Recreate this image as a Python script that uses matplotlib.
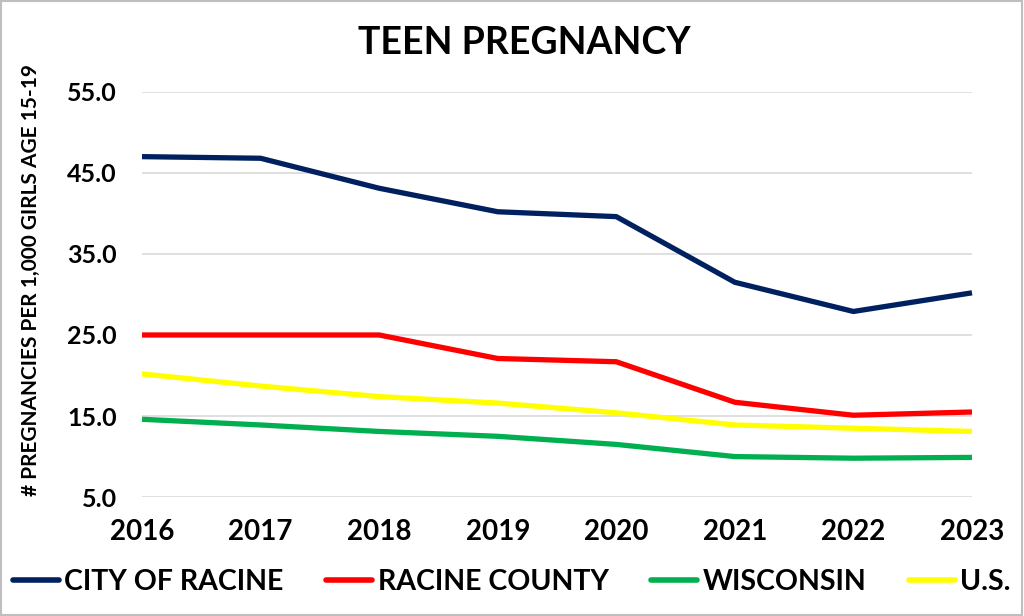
import matplotlib
matplotlib.use('Agg')
import matplotlib.pyplot as plt
from matplotlib.patches import Rectangle

years = [2016, 2017, 2018, 2019, 2020, 2021, 2022, 2023]
city_of_racine = [47.0, 46.8, 43.1, 40.2, 39.6, 31.5, 27.9, 30.2]
racine_county = [25.0, 25.0, 25.0, 22.1, 21.7, 16.7, 15.1, 15.5]
wisconsin = [14.6, 13.9, 13.1, 12.5, 11.5, 10.0, 9.8, 9.9]
us = [20.2, 18.7, 17.4, 16.6, 15.4, 13.9, 13.5, 13.1]
y_ticks = [5.0, 15.0, 25.0, 35.0, 45.0, 55.0]

plt.rcParams['font.family'] = ['Lato', 'DejaVu Sans']

fig = plt.figure(figsize=(10.24, 6.16), dpi=100)
ax = fig.add_axes([0.1387, 0.193, 0.8105, 0.658])

series = [
    ('CITY OF RACINE', city_of_racine, '#002060'),
    ('RACINE COUNTY', racine_county, '#FF0000'),
    ('WISCONSIN', wisconsin, '#00B050'),
    ('U.S.', us, '#FFFF00'),
]
for label, vals, color in series:
    ax.plot(years, vals, color=color, linewidth=3.8, label=label,
            solid_joinstyle='round', solid_capstyle='butt', clip_on=False)

ax.set_xlim(2016, 2023)
ax.set_ylim(5, 55)
ax.set_yticks(y_ticks)
ax.set_yticklabels(['%.1f' % v for v in y_ticks], fontsize=18, fontweight='bold')
ax.set_xticks(years)
ax.set_xticklabels([str(y) for y in years], fontsize=20, fontweight='bold')
ax.tick_params(axis='both', length=0)
ax.tick_params(axis='y', pad=18)
ax.tick_params(axis='x', pad=16)
ax.grid(axis='y', color='#d9d9d9', linewidth=1.2)
ax.set_axisbelow(True)
for s in ax.spines.values():
    s.set_visible(False)

ax.set_ylabel('# PREGNANCIES PER 1,000 GIRLS AGE 15-19', fontsize=15,
              fontweight='bold')
ax.yaxis.set_label_coords(-0.122, 0.535)

fig.text(0.512, 0.93, 'TEEN PREGNANCY', ha='center', va='center',
         fontsize=27, fontweight='bold')

leg = fig.legend(loc='center', bbox_to_anchor=(0.5, 0.055), ncol=4,
                 frameon=False, handlelength=1.6, handletextpad=0.2,
                 columnspacing=1.5,
                 prop={'size': 20.5, 'weight': 'bold'})
for h in leg.get_lines():
    h.set_linewidth(4)
    h.set_solid_capstyle('round')

fig.patches.append(Rectangle((0.001, 0.001), 0.997, 0.997, transform=fig.transFigure,
                             fill=False, edgecolor='#bfbfbf', linewidth=1.5))

fig.savefig('out.png', dpi=100)
